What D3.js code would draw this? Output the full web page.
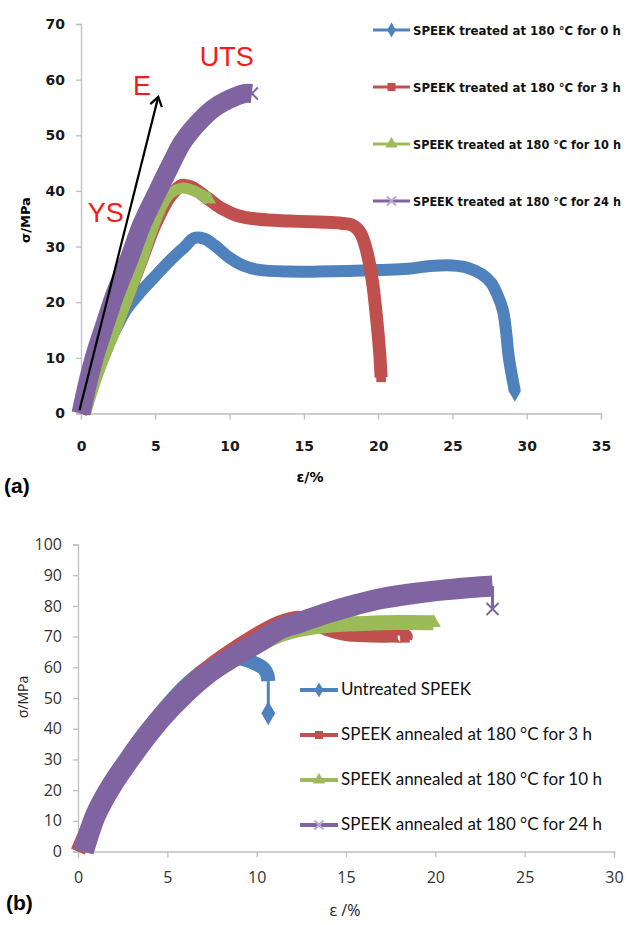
<!DOCTYPE html>
<html>
<head>
<meta charset="utf-8">
<script src="https://cdn.jsdelivr.net/npm/d3@7"></script>
<style>
  body { margin: 0; background: #fff; }
  svg { display: block; }
</style>
</head>
<body>
<div id="chart"></div>
<script>
// stress-strain curves of SPEEK films, (a) treated and (b) annealed at 180 °C
// each point is [strain %, stress MPa]

// ---- panel (a) ----
var topLabels = ["SPEEK treated at 180 °C for 0 h", "SPEEK treated at 180 °C for 3 h",
                 "SPEEK treated at 180 °C for 10 h", "SPEEK treated at 180 °C for 24 h"];
var topXTicks = [0, 5, 10, 15, 20, 25, 30, 35];
var topYTicks = [0, 10, 20, 30, 40, 50, 60, 70];

var top0h = [[0,0],[0.5,3.5],[1,7],[1.5,10.5],[2,13.5],[2.5,16],[3,18.5],[4,21.8],[5,24.7],[6,27.5],
  [7,30],[7.6,31.5],[8.3,31.4],[9,30.2],[10,28],[11,26.5],[12,25.8],[14,25.5],[16,25.5],[18,25.6],
  [20,25.8],[22,26],[23.5,26.5],[25,26.6],[26,26.2],[27,25],[27.6,23.5],[28,21.5],[28.4,18.5],[28.6,15],
  [28.8,10],[29.2,4]];
var top3h = [[0,0],[1,7],[2,13.5],[3,20],[4,27],[5,34],[6,39],[6.8,41],[7.5,40.6],[8.5,38.7],[9.5,36.8],
  [10.5,35.6],[12,34.9],[14,34.6],[16,34.4],[17.5,34.2],[18.3,33.8],[18.8,32.5],[19.2,29.5],[19.6,24],
  [19.9,17],[20.1,11],[20.2,6.5]];
var top10h = [[0.3,0],[1,6],[1.7,11],[2.4,15.5],[3.2,21],[4.1,27.5],[4.8,33],[5.4,37],[6,39.5],
  [6.8,40.5],[7.6,40],[8.6,38.5]];
var top24h = [[0,0],[0.5,6],[1,11],[1.55,15.5],[2.3,21.5],[3.2,27.5],[4.1,34],[5.1,39.6],[6,44.5],
  [6.8,48.6],[7.8,52],[8.9,54.8],[10,56.5],[11,57.5],[11.5,57.5]];

// annotation (modulus arrow and labels), in data units
var arrowE = [[-0.1,0.6],[5.2,56.9]];
var notes = [{t:"UTS", x:8.0, y:62.5}, {t:"E", x:3.5, y:57.3}, {t:"YS", x:0.45, y:34.4}];

// ---- panel (b) ----
var botLabels = ["Untreated SPEEK", "SPEEK annealed at 180 °C for 3 h",
                 "SPEEK annealed at 180 °C for 10 h", "SPEEK annealed at 180 °C for 24 h"];
var botXTicks = [0, 5, 10, 15, 20, 25, 30];
var botYTicks = [0, 10, 20, 30, 40, 50, 60, 70, 80, 90, 100];

var botUntreated = [[0,0],[1,13],[2,23],[3,33],[4.6,45],[6,54],[7.4,60.5],[8.5,63],[9.3,62.6],
  [9.9,61.3],[10.4,59.6],[10.6,57.5],[10.65,55.5],[10.65,45]];
var bot3h = [[0,0],[1,13],[2,23],[3,32.5],[4.6,44.5],[6,53],[7.4,60.5],[9,67],[10.2,71.3],[11.3,74.5],
  [12.3,76],[13,75.3],[14,72.5],[15,71],[16.5,70.5],[18.3,70.1],[18.3,69.6]];
var bot10h = [[0.3,0],[1,11],[2,21],[3,30],[4.6,42],[6,50.5],[7.4,57.5],[9,63.5],[10.2,67.5],
  [11.3,70.5],[12.4,72.3],[14,73.7],[16,74.3],[18,74.6],[19.9,74.5]];
var bot24h = [[0.3,0],[1,12],[1.8,20.7],[3,31],[4.6,43],[6,51.5],[7.4,58.5],[9,64.5],[10.2,68.5],
  [11.3,72.5],[12.4,74.6],[14,77.8],[15.5,80.3],[17,82.4],[19,84.2],[20.7,85.3],[22,86],[23.2,86.5],
  [23.2,79]];

var colors = ["#4F81BD", "#C0504D", "#9BBB59", "#8064A2"];
var symbols = ["diamond", "square", "triangle", "x"];

var svg = d3.select("#chart").append("svg")
  .attr("width", 630).attr("height", 925);

svg.append("defs").append("marker")
  .attr("id", "arrow")
  .attr("markerUnits", "userSpaceOnUse")
  .attr("markerWidth", 20).attr("markerHeight", 20)
  .attr("refX", 10).attr("refY", 10)
  .attr("orient", "auto")
  .append("path")
  .attr("d", "M1,4 L10,10 L1,16")
  .attr("fill", "none").attr("stroke", "#000").attr("stroke-width", 2.2);

function drawSymbol(g, type, cx, cy, s, color) {
  if (type == "x") {
    g.append("path")
      .attr("d", "M" + (cx - s) + "," + (cy - s) + "L" + (cx + s) + "," + (cy + s) +
                 "M" + (cx - s) + "," + (cy + s) + "L" + (cx + s) + "," + (cy - s))
      .attr("stroke", color).attr("stroke-width", 2).attr("fill", "none");
    return;
  }
  var t = type == "diamond" ? d3.symbolDiamond : type == "square" ? d3.symbolSquare : d3.symbolTriangle;
  g.append("path")
    .attr("d", d3.symbol().type(t).size(s * s * 2.6)())
    .attr("transform", "translate(" + cx + "," + cy + ")")
    .attr("fill", color);
}

// draws one thick curve; "tail" trailing points are drawn as a thin line with an end marker
function drawCurve(g, x, y, pts, color, width, tail, sym, symSize) {
  var line = d3.line()
    .x(d => x(d[0]))
    .y(d => y(d[1]))
    .curve(d3.curveCatmullRom.alpha(0.5));
  var band = pts.slice(0, pts.length - tail);
  g.append("path")
    .attr("d", line(band))
    .attr("fill", "none")
    .attr("stroke", color)
    .attr("stroke-width", width)
    .attr("stroke-linejoin", "round");
  if (tail > 0) {
    var rest = pts.slice(pts.length - tail - 1);
    g.append("path")
      .attr("d", d3.line().x(d => x(d[0])).y(d => y(d[1]))(rest))
      .attr("fill", "none").attr("stroke", color).attr("stroke-width", 3);
  }
  var last = pts[pts.length - 1];
  drawSymbol(g, sym, x(last[0]), y(last[1]), symSize, color);
}

function styleAxis(g, font, size, weight, color) {
  g.select(".domain").attr("stroke", "#bfbfbf").attr("stroke-width", 1.3);
  g.selectAll(".tick line").attr("stroke", "#bfbfbf").attr("stroke-width", 1.3);
  g.selectAll(".tick text")
    .attr("fill", color)
    .style("font-family", font)
    .style("font-size", size + "px")
    .style("font-weight", weight);
}

// legend rows; if a text is wider than maxW it is shrunk to fit
function drawLegend(g, labels, x0, x1, rows, font, size, weight, maxW, lineW) {
  labels.forEach(function (lab, i) {
    var cy = rows[i];
    g.append("line")
      .attr("x1", x0).attr("x2", x1).attr("y1", cy).attr("y2", cy)
      .attr("stroke", colors[i]).attr("stroke-width", lineW);
    drawSymbol(g, symbols[i], (x0 + x1) / 2, cy, symbols[i] == "x" ? 4.5 : 5, symbols[i] == "x" ? "#b9a8d0" : colors[i]);
    var t = g.append("text")
      .attr("x", x1 + 3).attr("y", cy + 5)
      .attr("fill", "#111")
      .style("font-family", font)
      .style("font-size", size + "px")
      .style("font-weight", weight)
      .text(lab);
    var w = t.node().getComputedTextLength();
    if (w > maxW) t.style("font-size", (size * maxW / w) + "px");
  });
}

// ================= panel (a) =================
var xA = d3.scaleLinear().domain([0, 35]).range([81, 601]);
var yA = d3.scaleLinear().domain([0, 70]).range([413.5, 24]);
var boldFont = "'DejaVu Sans', sans-serif";

var gAx = svg.append("g")
  .attr("transform", "translate(0," + yA(0) + ")")
  .call(d3.axisBottom(xA).tickValues(topXTicks).tickSizeOuter(0).tickSize(6).tickPadding(22));
styleAxis(gAx, boldFont, 14, "bold", "#1a1a1a");
var gAy = svg.append("g")
  .attr("transform", "translate(" + xA(0) + ",0)")
  .call(d3.axisLeft(yA).tickValues(topYTicks).tickSizeOuter(0).tickSize(5).tickPadding(11));
styleAxis(gAy, boldFont, 14, "bold", "#1a1a1a");

var curvesA = svg.append("g");
drawCurve(curvesA, xA, yA, top0h, colors[0], 12, 0, "diamond", 7);
drawCurve(curvesA, xA, yA, top3h, colors[1], 13, 0, "square", 6);
drawCurve(curvesA, xA, yA, top10h, colors[2], 11, 0, "triangle", 6);
drawCurve(curvesA, xA, yA, top24h, colors[3], 19, 0, "x", 6);

// modulus arrow and red labels
svg.append("line")
  .attr("x1", xA(arrowE[0][0])).attr("y1", yA(arrowE[0][1]))
  .attr("x2", xA(arrowE[1][0])).attr("y2", yA(arrowE[1][1]))
  .attr("stroke", "#000").attr("stroke-width", 2.2)
  .attr("marker-end", "url(#arrow)");
svg.selectAll(".note").data(notes).enter().append("text")
  .attr("x", d => xA(d.x)).attr("y", d => yA(d.y))
  .attr("fill", "#f51b1b")
  .style("font-family", "'Liberation Sans', Arial, sans-serif")
  .style("font-size", "27px")
  .text(d => d.t);

drawLegend(svg.append("g"), topLabels, 373, 410, [30, 87, 144, 201],
  "'Liberation Sans Narrow', 'DejaVu Sans Condensed', sans-serif", 15, "bold", 208, 3);

svg.append("text")
  .attr("x", 310).attr("y", 482).attr("text-anchor", "middle")
  .style("font-family", boldFont).style("font-size", "14px").style("font-weight", "bold")
  .text("ε/%");
svg.append("text")
  .attr("transform", "translate(30,220) rotate(-90)").attr("text-anchor", "middle")
  .style("font-family", boldFont).style("font-size", "13px").style("font-weight", "bold")
  .text("σ/MPa");
svg.append("text")
  .attr("x", 4).attr("y", 493)
  .style("font-family", "'Liberation Sans', Arial, sans-serif").style("font-size", "21px").style("font-weight", "bold")
  .text("(a)");

// ================= panel (b) =================
var xB = d3.scaleLinear().domain([0, 30]).range([78, 614]);
var yB = d3.scaleLinear().domain([0, 100]).range([851.5, 544.5]);
var regFont = "'Open Sans', sans-serif";

var gBx = svg.append("g")
  .attr("transform", "translate(0," + yB(0) + ")")
  .call(d3.axisBottom(xB).tickValues(botXTicks).tickSizeOuter(0).tickSize(6).tickPadding(14));
styleAxis(gBx, regFont, 16, "normal", "#333");
var gBy = svg.append("g")
  .attr("transform", "translate(" + xB(0) + ",0)")
  .call(d3.axisLeft(yB).tickValues(botYTicks).tickSizeOuter(0).tickSize(5).tickPadding(11));
styleAxis(gBy, regFont, 16, "normal", "#333");

var curvesB = svg.append("g");
drawCurve(curvesB, xB, yB, botUntreated, colors[0], 14, 1, "diamond", 8);
drawCurve(curvesB, xB, yB, bot3h, colors[1], 15, 0, "square", 6);
drawCurve(curvesB, xB, yB, bot10h, colors[2], 15, 0, "triangle", 6);
drawCurve(curvesB, xB, yB, bot24h, colors[3], 21, 1, "x", 6);

drawLegend(svg.append("g"), botLabels, 300, 338, [690, 735, 780, 825],
  "Lato, 'Open Sans', sans-serif", 17, "normal", 265, 4);

svg.append("text")
  .attr("x", 345).attr("y", 916).attr("text-anchor", "middle")
  .style("font-family", regFont).style("font-size", "16px").attr("fill", "#222")
  .text("ε /%");
svg.append("text")
  .attr("transform", "translate(28,697) rotate(-90)").attr("text-anchor", "middle")
  .style("font-family", regFont).style("font-size", "14px").attr("fill", "#222")
  .text("σ/MPa");
svg.append("text")
  .attr("x", 6).attr("y", 910)
  .style("font-family", "'Liberation Sans', Arial, sans-serif").style("font-size", "21px").style("font-weight", "bold")
  .text("(b)");
</script>
</body>
</html>
